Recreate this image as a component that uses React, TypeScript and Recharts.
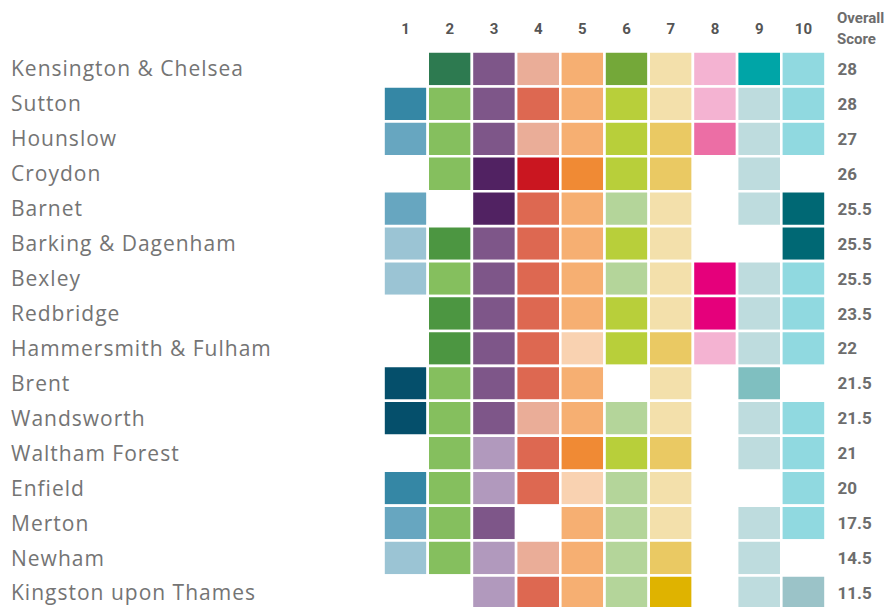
import { Bar, BarChart, Cell, LabelList, XAxis, YAxis } from "recharts";

// boroughs, top to bottom
const boroughs = [
  "Kensington & Chelsea",
  "Sutton",
  "Hounslow",
  "Croydon",
  "Barnet",
  "Barking & Dagenham",
  "Bexley",
  "Redbridge",
  "Hammersmith & Fulham",
  "Brent",
  "Wandsworth",
  "Waltham Forest",
  "Enfield",
  "Merton",
  "Newham",
  "Kingston upon Thames",
];

const scores = [28, 28, 27, 26, 25.5, 25.5, 25.5, 23.5, 22, 21.5, 21.5, 21, 20, 17.5, 14.5, 11.5];

const criteria = ["1", "2", "3", "4", "5", "6", "7", "8", "9", "10"];

// shade level per borough for each criterion (1 = darkest, 0 = blank)
const c1 = [0, 2, 3, 0, 3, 4, 4, 0, 0, 1, 1, 0, 2, 3, 4, 0];
const c2 = [1, 3, 3, 3, 0, 2, 3, 2, 2, 3, 3, 3, 3, 3, 3, 0];
const c3 = [2, 2, 2, 1, 1, 2, 2, 2, 2, 2, 2, 3, 3, 2, 3, 3];
const c4 = [3, 2, 3, 1, 2, 2, 2, 2, 2, 2, 3, 2, 2, 0, 3, 2];
const c5 = [2, 2, 2, 1, 2, 2, 2, 2, 3, 2, 2, 1, 3, 2, 2, 2];
const c6 = [1, 2, 2, 2, 3, 2, 3, 2, 2, 0, 3, 2, 3, 3, 3, 3];
const c7 = [3, 3, 2, 2, 3, 3, 3, 3, 2, 3, 3, 2, 3, 3, 2, 1];
const c8 = [3, 3, 2, 0, 0, 0, 1, 1, 3, 0, 0, 0, 0, 0, 0, 0];
const c9 = [1, 3, 3, 3, 3, 0, 3, 3, 3, 2, 3, 3, 0, 3, 3, 3];
const c10 = [3, 3, 3, 0, 1, 1, 3, 3, 3, 0, 3, 3, 3, 3, 0, 2];

const levels = [c1, c2, c3, c4, c5, c6, c7, c8, c9, c10];

const palettes = [
  ["#054f6b", "#3587a5", "#67a6c0", "#9bc4d4"],
  ["#2d7a50", "#4c9641", "#85bf5e"],
  ["#512262", "#7e5689", "#b199bd"],
  ["#ca1620", "#dd6851", "#eaad98"],
  ["#f08a34", "#f6af72", "#f9d2b1"],
  ["#74a839", "#b8cf3a", "#b4d59a"],
  ["#dfb300", "#eac963", "#f3e0ab"],
  ["#e5007b", "#ec6ea5", "#f4b3d2"],
  ["#00a5a7", "#7fbfc0", "#bedcde"],
  ["#006874", "#9bc3c8", "#90d9e0"],
];

const data = boroughs.map((name, i) => {
  const row: any = { name, score: scores[i] };
  criteria.forEach((_, j) => {
    row["c" + j] = 1;
  });
  return row;
});

const FONT = "Roboto, 'Noto Sans', sans-serif";

function BoroughTick({ y, payload }: any) {
  return (
    <text
      x={11}
      y={y}
      dy={7.5}
      textAnchor="start"
      fontSize={21}
      fill="#747474"
      fontFamily="'Open Sans', 'Noto Sans', sans-serif"
      letterSpacing={1}
    >
      {payload.value}
    </text>
  );
}

export default function App() {
  return (
    <div style={{ position: "absolute", left: 0, top: 0, width: 896, height: 607, overflow: "hidden", background: "#fff" }}>
      <BarChart
        width={896}
        height={613}
        data={data}
        layout="vertical"
        barCategoryGap={0}
        margin={{ top: 0, right: 70.5, bottom: 2.6, left: 0 }}
      >
        <XAxis
          type="number"
          orientation="top"
          domain={[0, 10]}
          ticks={[0.5, 1.5, 2.5, 3.5, 4.5, 5.5, 6.5, 7.5, 8.5, 9.5]}
          tickFormatter={(v: number) => criteria[Math.floor(v)]}
          height={51.5}
          axisLine={false}
          tickLine={false}
          tickSize={0}
          tickMargin={18}
          tick={{ fontSize: 15, fontWeight: 700, fill: "#555", fontFamily: FONT }}
        />
        <YAxis
          type="category"
          dataKey="name"
          width={383.5}
          axisLine={false}
          tickLine={false}
          tick={<BoroughTick />}
          interval={0}
        />
        {criteria.map((c, j) => (
          <Bar key={c} dataKey={"c" + j} stackId="grid" stroke="#fff" strokeWidth={2.6} isAnimationActive={false}>
            {levels[j].map((lv, i) => (
              <Cell key={i} fill={lv === 0 ? "#fff" : palettes[j][lv - 1]} />
            ))}
            {j === criteria.length - 1 && (
              <LabelList
                dataKey="score"
                position="right"
                offset={12}
                fontSize={17}
                fontWeight={700}
                fill="#6d6d6d"
                fontFamily={FONT}
              />
            )}
          </Bar>
        ))}
      </BarChart>
      <div
        style={{
          position: "absolute",
          left: 837,
          top: 8,
          fontFamily: FONT,
          fontSize: 15,
          fontWeight: 700,
          color: "#6d6d6d",
          lineHeight: "21px",
          whiteSpace: "nowrap",
        }}
      >
        Overall
        <br />
        Score
      </div>
    </div>
  );
}
